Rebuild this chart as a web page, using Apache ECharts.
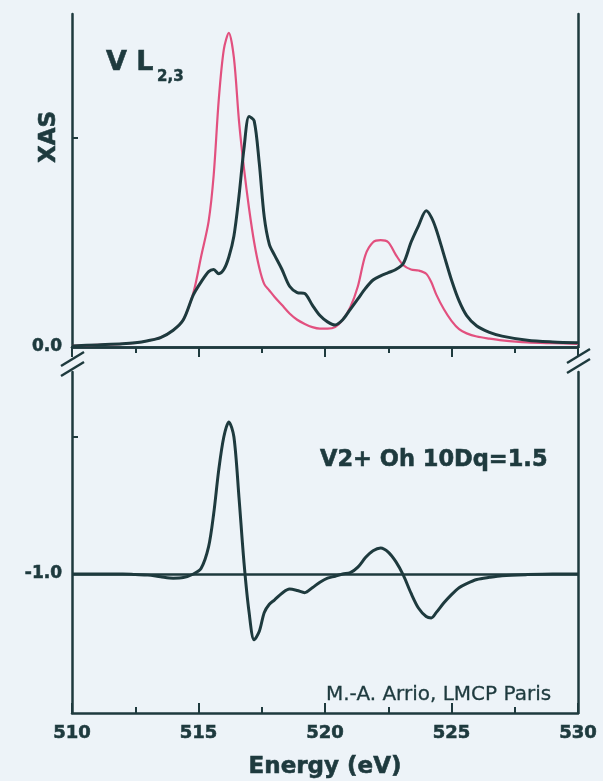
<!DOCTYPE html>
<html>
<head>
<meta charset="utf-8">
<title>V L2,3 XAS</title>
<script src="https://cdn.jsdelivr.net/npm/echarts@6/dist/echarts.min.js"></script>
<style>
  html, body { margin: 0; padding: 0; background: #edf3f8; }
  #chart { width: 603px; height: 781px; }
</style>
</head>
<body>
<div id="chart"></div>
<script>
// energy grid (eV) shared by the three curves
var energy = [510, 511, 512, 512.5, 513, 513.5, 514, 514.4, 514.8, 515.1, 515.4, 515.6, 515.8, 516.0, 516.2, 516.4, 516.6, 516.8,
  517.0, 517.2, 517.4, 517.6, 517.8, 518.0, 518.3, 518.6, 518.9, 519.2, 519.5, 519.8, 520.1, 520.4, 520.7, 521.0, 521.3, 521.6,
  521.9, 522.2, 522.5, 522.8, 523.1, 523.4, 523.7, 524.0, 524.2, 524.4, 524.7, 525.0, 525.3, 525.6, 526.0, 526.5, 527, 528, 529, 530]

// pink spectrum (top panel)
var xasPink = [0.005, 0.01, 0.015, 0.02, 0.03, 0.045, 0.08, 0.13, 0.26, 0.43, 0.60, 0.82, 1.18, 1.42, 1.50, 1.38, 1.08, 0.85,
  0.66, 0.50, 0.38, 0.30, 0.27, 0.24, 0.20, 0.16, 0.13, 0.11, 0.095, 0.088, 0.088, 0.095, 0.13, 0.19, 0.29, 0.44,
  0.50, 0.51, 0.50, 0.44, 0.39, 0.37, 0.365, 0.35, 0.31, 0.25, 0.18, 0.125, 0.085, 0.065, 0.05, 0.04, 0.032, 0.022, 0.018, 0.015]

// dark spectrum (top panel)
var xasDark = [0.005, 0.01, 0.015, 0.02, 0.03, 0.045, 0.08, 0.13, 0.25, 0.31, 0.36, 0.37, 0.35, 0.37, 0.43, 0.53, 0.72, 0.95,
  1.10, 1.08, 0.88, 0.62, 0.49, 0.44, 0.37, 0.29, 0.26, 0.255, 0.20, 0.15, 0.12, 0.105, 0.13, 0.18, 0.23, 0.28,
  0.32, 0.34, 0.355, 0.37, 0.40, 0.50, 0.58, 0.65, 0.62, 0.56, 0.44, 0.32, 0.22, 0.15, 0.10, 0.07, 0.052, 0.032, 0.024, 0.02]

// difference curve (bottom panel, offset to -1.0)
var xmcd = [-1.0, -1.0, -1.0, -1.002, -1.004, -1.01, -1.015, -1.013, -1.0, -0.98, -0.90, -0.78, -0.62, -0.50, -0.445, -0.50, -0.72, -0.96,
  -1.14, -1.24, -1.21, -1.14, -1.11, -1.095, -1.07, -1.055, -1.06, -1.068, -1.05, -1.03, -1.015, -1.008, -1.0, -0.995, -0.975, -0.94,
  -0.915, -0.905, -0.92, -0.955, -1.005, -1.07, -1.125, -1.155, -1.16, -1.14, -1.105, -1.075, -1.05, -1.035, -1.02, -1.012, -1.006, -1.002, -1.0, -1.0]

var topTicks = [1.0]
var topLabels = [0.0]
var bottomTicks = [-0.5]
var bottomLabels = [-1.0]

var ink = '#1e3a3e'
var pink = '#e2507f'
var font = 'DejaVu Sans'

function pairs(ys) {
  var out = []
  for (var i = 0; i < energy.length; i++) {
    out.push([energy[i], ys[i]])
  }
  return out
}

var chart = echarts.init(document.getElementById('chart'))

var lineAxis = { show: true, lineStyle: { color: ink, width: 2.5 } }
// slightly heavier lettering, the scan uses a black grotesque
var heavy = { textBorderColor: ink, textBorderWidth: 0.6 }

chart.setOption({
  backgroundColor: '#edf3f8',
  animation: false,
  grid: [
    { left: 72, right: 25, top: 14, height: 333 },
    { left: 72, right: 25, top: 372, height: 341 }
  ],
  xAxis: [
    {
      gridIndex: 0, type: 'value', position: 'top', min: 510, max: 530, interval: 5,
      axisLine: lineAxis,
      axisTick: { inside: true, length: 10, lineStyle: { color: ink, width: 2 } },
      minorTick: { show: true, splitNumber: 2, length: 6, lineStyle: { color: ink, width: 2 } },
      axisLabel: { show: false },
      splitLine: { show: false }
    },
    {
      gridIndex: 0, type: 'value', position: 'bottom', min: 510, max: 530,
      axisLine: lineAxis,
      axisTick: { show: false },
      axisLabel: { show: false },
      splitLine: { show: false }
    },
    {
      gridIndex: 1, type: 'value', position: 'bottom', min: 510, max: 530, interval: 5,
      axisLine: lineAxis,
      axisTick: { inside: true, length: 10, lineStyle: { color: ink, width: 2 } },
      minorTick: { show: true, splitNumber: 2, length: 6, lineStyle: { color: ink, width: 2 } },
      axisLabel: Object.assign({ color: ink, fontFamily: font, fontWeight: 'bold', fontSize: 18, margin: 11 }, heavy),
      splitLine: { show: false },
      name: 'Energy (eV)',
      nameLocation: 'middle',
      nameGap: 43,
      nameTextStyle: Object.assign({ color: ink, fontFamily: font, fontWeight: 'bold', fontSize: 23 }, heavy)
    }
  ],
  yAxis: [
    {
      gridIndex: 0, type: 'value', position: 'left', min: 0, max: 1.59,
      axisLine: lineAxis,
      axisTick: { inside: true, length: 6, customValues: topTicks, lineStyle: { color: ink, width: 2 } },
      axisLabel: Object.assign({
        customValues: topLabels, color: ink, fontFamily: font, fontWeight: 'bold', fontSize: 17, margin: 10,
        formatter: function (v) { return v.toFixed(1) }
      }, heavy),
      splitLine: { show: false }
    },
    {
      gridIndex: 0, type: 'value', position: 'right', min: 0, max: 1.59,
      axisLine: lineAxis, axisTick: { show: false }, axisLabel: { show: false }, splitLine: { show: false }
    },
    {
      gridIndex: 1, type: 'value', position: 'left', min: -1.507, max: -0.263,
      axisLine: lineAxis,
      axisTick: { inside: true, length: 6, customValues: bottomTicks, lineStyle: { color: ink, width: 2 } },
      axisLabel: Object.assign({
        customValues: bottomLabels, color: ink, fontFamily: font, fontWeight: 'bold', fontSize: 17, margin: 10,
        formatter: function (v) { return v.toFixed(1) }
      }, heavy),
      splitLine: { show: false }
    },
    {
      gridIndex: 1, type: 'value', position: 'right', min: -1.507, max: -0.263,
      axisLine: lineAxis, axisTick: { show: false }, axisLabel: { show: false }, splitLine: { show: false }
    }
  ],
  series: [
    {
      name: 'pink', type: 'line', xAxisIndex: 0, yAxisIndex: 0,
      data: pairs(xasPink), showSymbol: false, smooth: 0.3,
      lineStyle: { color: pink, width: 2.2 }, z: 3
    },
    {
      name: 'dark', type: 'line', xAxisIndex: 0, yAxisIndex: 0,
      data: pairs(xasDark), showSymbol: false, smooth: 0.3,
      lineStyle: { color: ink, width: 3 }, z: 4
    },
    {
      name: 'diff', type: 'line', xAxisIndex: 2, yAxisIndex: 2,
      data: pairs(xmcd), showSymbol: false, smooth: 0.3,
      lineStyle: { color: ink, width: 3 }, z: 4,
      markLine: {
        silent: true, symbol: 'none', label: { show: false },
        lineStyle: { color: ink, width: 2.5, type: 'solid' },
        data: [{ yAxis: -1.0 }]
      }
    }
  ],
  graphic: [
    // axis break marks
    { type: 'line', shape: { x1: 61, y1: 366, x2: 84, y2: 352 }, style: { stroke: ink, lineWidth: 2.5 } },
    { type: 'line', shape: { x1: 61, y1: 376, x2: 84, y2: 362 }, style: { stroke: ink, lineWidth: 2.5 } },
    { type: 'line', shape: { x1: 567, y1: 363, x2: 590, y2: 349 }, style: { stroke: ink, lineWidth: 2.5 } },
    { type: 'line', shape: { x1: 567, y1: 373, x2: 590, y2: 359 }, style: { stroke: ink, lineWidth: 2.5 } },
    {
      type: 'text', x: 49, y: 137, rotation: Math.PI / 2,
      style: { text: 'XAS', fill: ink, stroke: ink, lineWidth: 0.6, font: 'bold 23px "DejaVu Sans"', align: 'center', verticalAlign: 'middle' }
    },
    {
      type: 'text', x: 106, y: 63,
      style: { text: 'V L', fill: ink, stroke: ink, lineWidth: 0.6, font: 'bold 27px "DejaVu Sans"', align: 'left', verticalAlign: 'middle' }
    },
    {
      type: 'text', x: 157, y: 77,
      style: { text: '2,3', fill: ink, stroke: ink, lineWidth: 0.5, font: 'bold 15px "DejaVu Sans"', align: 'left', verticalAlign: 'middle' }
    },
    {
      type: 'text', x: 320, y: 460,
      style: { text: 'V2+ Oh 10Dq=1.5', fill: ink, stroke: ink, lineWidth: 0.6, font: 'bold 22.5px "DejaVu Sans"', align: 'left', verticalAlign: 'middle' }
    },
    {
      type: 'text', x: 326, y: 695,
      style: { text: 'M.-A. Arrio, LMCP Paris', fill: ink, stroke: ink, lineWidth: 0.3, font: '20px "DejaVu Sans"', align: 'left', verticalAlign: 'middle' }
    }
  ]
})
</script>
</body>
</html>
